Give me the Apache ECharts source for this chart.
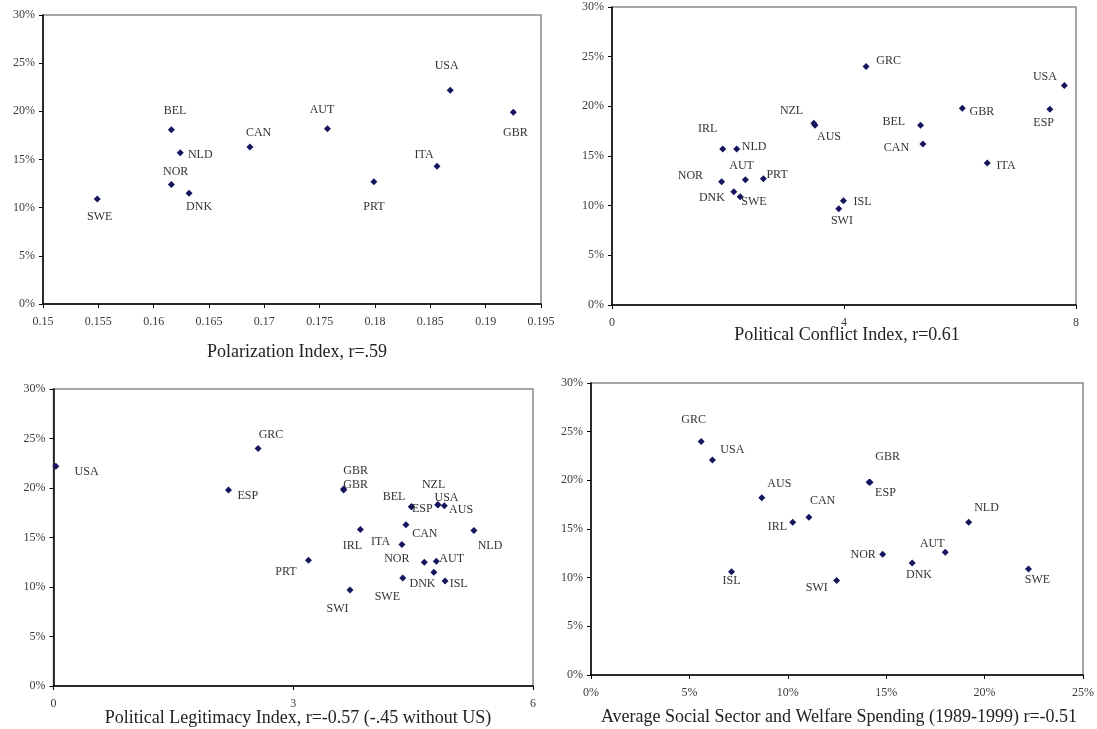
<!DOCTYPE html>
<html>
<head>
<meta charset="utf-8">
<script src="https://cdn.jsdelivr.net/npm/echarts@6/dist/echarts.min.js"></script>
<style>
html,body{margin:0;padding:0;background:#fff;}
#chart{width:1097px;height:729px;}
</style>
</head>
<body>
<div id="chart"></div>
<script>
// ---------- DATA ----------
// Panel 1: Polarization Index
const p1Names = ['SWE','BEL','NLD','NOR','DNK','CAN','AUT','PRT','ITA','USA','GBR'];
const p1X = [0.1549,0.1616,0.1624,0.1616,0.1632,0.1687,0.1757,0.1799,0.1856,0.1868,0.1925];
const p1Y = [10.9,18.1,15.7,12.4,11.5,16.3,18.2,12.7,14.3,22.2,19.9];

// Panel 2: Political Conflict Index
const p2Names = ['GRC','USA','GBR','ESP','NZL','AUS','BEL','CAN','IRL','NLD','ITA','NOR','AUT','PRT','DNK','SWE','ISL','SWI'];
const p2X = [4.38,7.80,6.04,7.55,3.48,3.50,5.32,5.36,1.91,2.15,6.47,1.89,2.30,2.61,2.10,2.21,3.99,3.91];
const p2Y = [24.0,22.1,19.8,19.7,18.3,18.1,18.1,16.2,15.7,15.7,14.3,12.4,12.6,12.7,11.4,10.9,10.5,9.7];

// Panel 3: Political Legitimacy Index
const p3Names = ['USA','GRC','ESP','GBR','GBR','BEL','ESP','NZL','USA','AUS','CAN','IRL','NLD','ITA','PRT','NOR','AUT','DNK','SWE','ISL','SWI'];
const p3X = [0.03,2.56,2.19,3.63,3.63,4.48,4.48,4.81,4.81,4.89,4.41,3.84,5.26,4.36,3.19,4.64,4.79,4.76,4.37,4.90,3.71];
const p3Y = [22.2,24.0,19.8,19.9,19.8,18.1,18.1,18.3,18.3,18.2,16.3,15.8,15.7,14.3,12.7,12.5,12.6,11.5,10.9,10.6,9.7];

// Panel 4: Average Social Sector and Welfare Spending (%)
const p4Names = ['GRC','USA','AUS','GBR','ESP','CAN','IRL','NLD','NOR','AUT','DNK','SWE','ISL','SWI'];
const p4X = [5.60,6.17,8.68,14.13,14.18,11.07,10.25,19.19,14.82,18.00,16.32,22.23,7.14,12.48];
const p4Y = [24.0,22.1,18.2,19.8,19.8,16.2,15.7,15.7,12.4,12.6,11.5,10.9,10.6,9.7];

const titles = [
  'Polarization Index, r=.59',
  'Political Conflict Index, r=0.61',
  'Political Legitimacy Index, r=-0.57 (-.45 without US)',
  'Average Social Sector and Welfare Spending (1989-1999) r=-0.51'
];

// ---------- LAYOUT (label offsets in px, not data) ----------
const p1Off = [[2.5,18],[3.6,-19],[20,2.3],[4.3,-12.3],[10,13.3],[8.6,-14.3],[-5.4,-19.3],[0,25.3],[-12.9,-11.3],[-3.6,-24.7],[2.1,20.3]];
const p2Off = [[22.6,-5.7],[-19.5,-9],[19.5,3.3],[-6.2,13.3],[-22.3,-12.3],[14,11.3],[-26.7,-3],[-26.4,3.7],[-15,-20.3],[17.5,-2],[18.8,3],[-31.2,-6.3],[-3.8,-13.7],[13.7,-3.7],[-21.9,6],[13.7,4.7],[19.2,0.7],[3.1,12.3]];
const p3Off = [[30.7,5.3],[12.9,-14],[19.3,6],[12.1,-17.7],[12.1,-5.3],[-17.5,-10],[10.7,2],[-4.3,-20],[8.6,-6.7],[16.8,4],[18.9,9],[-7.9,16],[16.1,15],[-21.4,-3],[-22.5,11.7],[-27.5,-3.7],[15.4,-2],[-11.4,11.7],[-15.4,19],[13.6,3],[-12.5,18.7]];
const p4Off = [[-7.5,-22],[19.9,-10.3],[17.5,-14],[18.5,-25],[15.4,10.3],[13.7,-16],[-15.4,5],[17.8,-14.7],[-19.5,0.7],[-13,-8.7],[6.8,11.7],[8.9,11],[0,8.7],[-19.9,7.7]];

const FONT = '"Liberation Serif", "DejaVu Serif", serif';
const SYM = 7;
const grids = [
  {left:43, top:15, width:498, height:289},
  {left:612, top:7, width:464, height:298},
  {left:53.5, top:389, width:479.5, height:297},
  {left:591, top:383, width:495, height:292}
];
const titlePos = [[292,338],[842,321],[293,704],[834,703]];

function buildData(names, xs, ys, offs){
  return names.map((n,i)=>({
    name:n, value:[xs[i], ys[i]],
    label:{position:[SYM/2 + offs[i][0], SYM/2 + offs[i][1]]}
  }));
}

const axisLabelStyle = {color:'#3a3a3a', fontFamily:FONT, fontSize:12};

const xAxes = [
  {min:0.15, max:0.195, interval:0.005, formatter:v=>String(+v.toFixed(3))},
  {min:0, max:8, interval:4, formatter:v=>String(v)},
  {min:0, max:6, interval:3, formatter:v=>String(v)},
  {min:0, max:25, interval:5, formatter:v=>v+'%'}
].map((a,i)=>({
  type:'value', gridIndex:i, min:a.min, max:a.max, interval:a.interval,
  axisLine:{show:true, onZero:false, lineStyle:{color:'#000', width:1.5}},
  axisTick:{show:true, length:4, inside:false, lineStyle:{color:'#000', width:1}},
  splitLine:{show:false},
  axisLabel:Object.assign({margin:12, formatter:a.formatter}, axisLabelStyle)
}));

const yAxes = [0,1,2,3].map(i=>({
  type:'value', gridIndex:i, min:0, max:30, interval:5,
  axisLine:{show:true, onZero:false, lineStyle:{color:'#000', width:1.5}},
  axisTick:{show:true, length:4, lineStyle:{color:'#000', width:1}},
  splitLine:{show:false},
  axisLabel:Object.assign({margin:8, formatter:'{value}%'}, axisLabelStyle)
}));

const datasets = [
  buildData(p1Names,p1X,p1Y,p1Off),
  buildData(p2Names,p2X,p2Y,p2Off),
  buildData(p3Names,p3X,p3Y,p3Off),
  buildData(p4Names,p4X,p4Y,p4Off)
];

const series = datasets.map((d,i)=>({
  type:'scatter', xAxisIndex:i, yAxisIndex:i,
  symbol:'diamond', symbolSize:SYM,
  itemStyle:{color:'#15155e', opacity:1},
  label:{show:true, formatter:'{b}', color:'#333',
         fontFamily:FONT, fontSize:12, align:'center', verticalAlign:'middle'},
  labelLayout:{hideOverlap:false},
  emphasis:{disabled:true},
  animation:false,
  data:d
}));

const chart = echarts.init(document.getElementById('chart'), null, {renderer:'canvas'});
chart.setOption({
  backgroundColor:'#fff',
  animation:false,
  title: titles.map((t,i)=>({
    text:t, left:titlePos[i][0], top:titlePos[i][1], textAlign:'center',
    textStyle:{fontFamily:FONT, fontSize:18, fontWeight:'normal', color:'#222'}
  })),
  grid: grids.map(g=>Object.assign({show:true, borderColor:'#8a8a8a', borderWidth:1.5, backgroundColor:'transparent', containLabel:false}, g)),
  xAxis:xAxes,
  yAxis:yAxes,
  series:series
});
</script>
</body>
</html>
